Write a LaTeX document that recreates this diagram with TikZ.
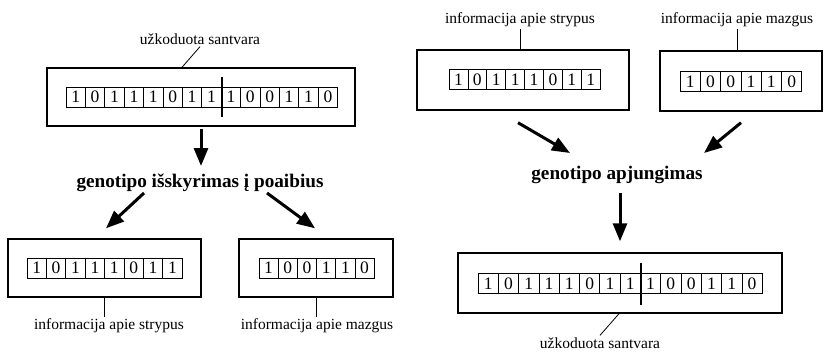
\documentclass[tikz,border=0pt]{standalone}
\usepackage{fontspec}
\setmainfont{Liberation Serif}
\usetikzlibrary{arrows.meta}

\tikzset{
  box/.style={draw, line width=1.4pt, inner sep=0pt},
  cell/.style={draw, line width=0.8pt, minimum height=20pt, inner sep=0pt,
    font=\fontsize{17.5}{18}\selectfont},
  lbl/.style={font=\fontsize{15.5}{16}\selectfont, inner sep=2pt},
  titl/.style={font=\fontsize{19.2}{20}\selectfont\bfseries, inner sep=2pt},
  bigarrow/.style={line width=3pt, -{Triangle[length=18pt,width=14pt]}},
  divider/.style={line width=1.8pt},
  leader/.style={line width=0.8pt},
}

% a row of gene cells: name, left x, centre y, cell width, bits
\newcommand{\bitrow}[5]{%
  \foreach \b [count=\i] in {#5}
    \node[cell, minimum width=#4pt] (#1\i) at ({#2+(\i-0.5)*#4},#3) {\b};%
}

\begin{document}
\begin{tikzpicture}[x=1pt,y=-1pt]
  \useasboundingbox (0,0) rectangle (825,356);

  % left: splitting the genotype
  \node[box, minimum width=308pt, minimum height=58pt] (encbox) at (201,97) {};
  \bitrow{enc}{66}{97}{19.4}{1,0,1,1,1,0,1,1,1,0,0,1,1,0}
  \draw[divider] ([yshift=10pt]enc8.north east) -- ([yshift=-10pt]enc8.south east);
  \node[lbl] (enclab) at (200,39) {užkoduota santvara};
  \draw[leader] (enclab.south) -- ([xshift=-19pt]encbox.north);

  \node[titl] (split) at (200,183) {genotipo išskyrimas į poaibius};
  \draw[bigarrow] ([yshift=-2pt]encbox.south) -- ([xshift=1pt,yshift=17pt]split.center);

  \node[box, minimum width=193pt, minimum height=58pt] (strbox) at (104.5,268) {};
  \bitrow{str}{27}{268}{19.4}{1,0,1,1,1,0,1,1}
  \node[lbl] (strlab) at (109,326) {informacija apie strypus};
  \draw[leader] (strbox.south) -- (strbox.south |- strlab.north);

  \node[box, minimum width=154pt, minimum height=58pt] (mazbox) at (316,268) {};
  \bitrow{maz}{259}{268}{19.2}{1,0,0,1,1,0}
  \node[lbl] (mazlab) at (317,326) {informacija apie mazgus};
  \draw[leader] (mazbox.south) -- (mazbox.south |- mazlab.north);

  \draw[bigarrow] ([xshift=-56pt,yshift=-10pt]split.center) -- ([xshift=1.5pt,yshift=10pt]strbox.north);
  \draw[bigarrow] ([xshift=67pt,yshift=-10pt]split.center) -- ([xshift=-1pt,yshift=10pt]mazbox.north);

  % right: joining the genotype
  \node[lbl] (strlabb) at (520,20) {informacija apie strypus};
  \node[box, minimum width=212pt, minimum height=60pt] (strboxb) at (523,80) {};
  \bitrow{strb}{449}{79.5}{18.9}{1,0,1,1,1,0,1,1}
  \draw[leader] (strlabb.south) -- (strlabb.south |- strboxb.north);

  \node[lbl] (mazlabb) at (737,20) {informacija apie mazgus};
  \node[box, minimum width=162pt, minimum height=60pt] (mazboxb) at (741,81) {};
  \bitrow{mazb}{680}{81.5}{20.3}{1,0,0,1,1,0}
  \draw[leader] (mazlabb.south) -- (mazlabb.south |- mazboxb.north);

  \node[titl] (join) at (617,175) {genotipo apjungimas};
  \draw[bigarrow] ([xshift=-5pt,yshift=-12pt]strboxb.south) -- ([xshift=-47pt,yshift=22pt]join.center);
  \draw[bigarrow] ([xshift=0pt,yshift=-11pt]mazboxb.south) -- ([xshift=87pt,yshift=22pt]join.center);

  \node[box, minimum width=324pt, minimum height=60pt] (encboxb) at (620,283) {};
  \bitrow{encb}{478}{283.5}{20.3}{1,0,1,1,1,0,1,1,1,0,0,1,1,0}
  \draw[divider] ([yshift=10pt]encb8.north east) -- ([yshift=-11pt]encb8.south east);
  \draw[bigarrow] ([xshift=3pt,yshift=-18pt]join.center) -- ([yshift=11pt]encboxb.north);
  \node[lbl] (enclabb) at (600,343) {užkoduota santvara};
  \draw[leader] ([xshift=-1pt]encboxb.south) -- (enclabb.north);
\end{tikzpicture}
\end{document}
